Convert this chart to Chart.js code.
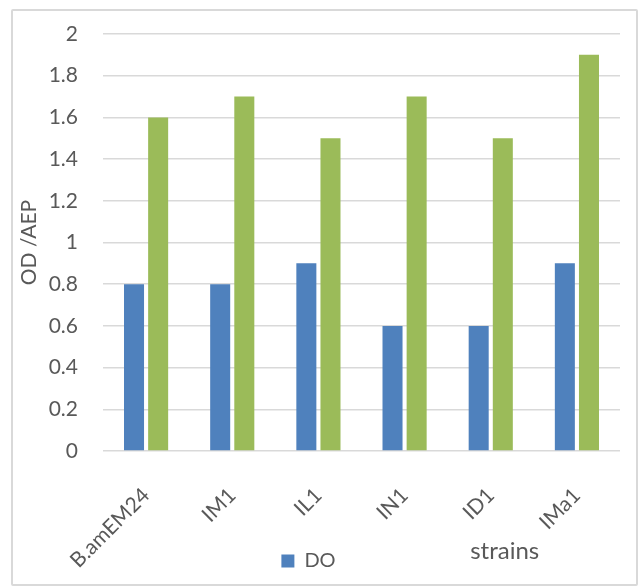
<!DOCTYPE html>
<html>
<head>
<meta charset="utf-8">
<script src="https://cdn.jsdelivr.net/npm/chart.js@4/dist/chart.umd.min.js"></script>
<style>
  html, body { margin: 0; padding: 0; background: #ffffff; }
  #frame {
    position: absolute; left: 11px; top: 9px;
    width: 627px; height: 577px;
    box-sizing: border-box;
    border: 2px solid #d9d9d9;
    border-radius: 2px;
    background: #ffffff;
  }
  #frame canvas { display: block; }
</style>
</head>
<body>
<div id="frame"><canvas id="chart"></canvas></div>
<script>
// Strains on the x axis
const strains = ['B.amEM24', 'IM1', 'IL1', 'IN1', 'ID1', 'IMa1'];
// OD readings (blue series, shown in the legend as "DO")
const doValues = [0.8, 0.8, 0.9, 0.6, 0.6, 0.9];
// AEP readings (green series)
const aepValues = [1.6, 1.7, 1.5, 1.7, 1.5, 1.9];
// Y axis ticks
const yTicks = [0, 0.2, 0.4, 0.6, 0.8, 1, 1.2, 1.4, 1.6, 1.8, 2];

const textColor = '#595959';
const gridColor = '#d9d9d9';
const fontFamily = 'Lato, "Open Sans", sans-serif';

// Free-standing axis caption placed under the plot, to the right
const captionPlugin = {
  id: 'strainsCaption',
  afterDraw(chart) {
    const { ctx, chartArea } = chart;
    ctx.save();
    ctx.font = '24px ' + fontFamily;
    ctx.fillStyle = textColor;
    ctx.textAlign = 'center';
    ctx.textBaseline = 'middle';
    const x = chartArea.left + (chartArea.right - chartArea.left) * 0.777;
    ctx.fillText('strains', x, chartArea.bottom + 100);
    ctx.restore();
  }
};

// Legend sits a little left of the canvas centre; rotated x labels may
// run down past the axis box, so let them draw to the canvas bottom
const layoutTweaks = {
  id: 'layoutTweaks',
  afterLayout(chart) {
    const lg = chart.legend;
    if (lg) { lg.left -= 8; lg.right -= 8; }
    const xs = chart.scales.x;
    if (xs) { xs.bottom = chart.height; }
  }
};

new Chart(document.getElementById('chart'), {
  type: 'bar',
  data: {
    labels: strains,
    datasets: [
      {
        label: 'DO',
        data: doValues,
        backgroundColor: '#4f81bd',
        categoryPercentage: 0.56,
        barPercentage: 0.83
      },
      {
        label: 'AEP',
        data: aepValues,
        backgroundColor: '#9bbb59',
        categoryPercentage: 0.56,
        barPercentage: 0.83
      }
    ]
  },
  options: {
    responsive: true,
    maintainAspectRatio: false,
    animation: false,
    layout: { padding: { top: 23, right: 16, bottom: 3, left: 0 } },
    plugins: {
      tooltip: { enabled: false },
      legend: {
        position: 'bottom',
        labels: {
          filter: (item) => item.text === 'DO',
          color: textColor,
          font: { family: fontFamily, size: 20 },
          boxWidth: 13,
          boxHeight: 13,
          padding: 2
        }
      }
    },
    scales: {
      x: {
        grid: { display: false, drawTicks: false },
        border: { display: false },
        ticks: {
          color: textColor,
          font: { family: fontFamily, size: 21 },
          minRotation: 45,
          maxRotation: 45,
          padding: 32
        },
        afterFit(scale) { scale.height = 98; }
      },
      y: {
        min: 0,
        max: 2,
        afterBuildTicks(scale) { scale.ticks = yTicks.map(v => ({ value: v })); },
        grid: { color: gridColor, lineWidth: 1.5, drawTicks: false },
        border: { display: false },
        ticks: {
          color: textColor,
          font: { family: fontFamily, size: 21 },
          padding: 25,
          callback: (v) => String(v)
        },
        title: {
          display: true,
          text: 'OD /AEP',
          color: textColor,
          font: { family: fontFamily, size: 21 },
          padding: { top: 4, bottom: 0 }
        },
        afterFit(scale) {
          scale.width = 90;
          scale.paddingTop = 0;
          scale.paddingBottom = 0;
        }
      }
    }
  },
  plugins: [captionPlugin, layoutTweaks]
});
</script>
</body>
</html>
